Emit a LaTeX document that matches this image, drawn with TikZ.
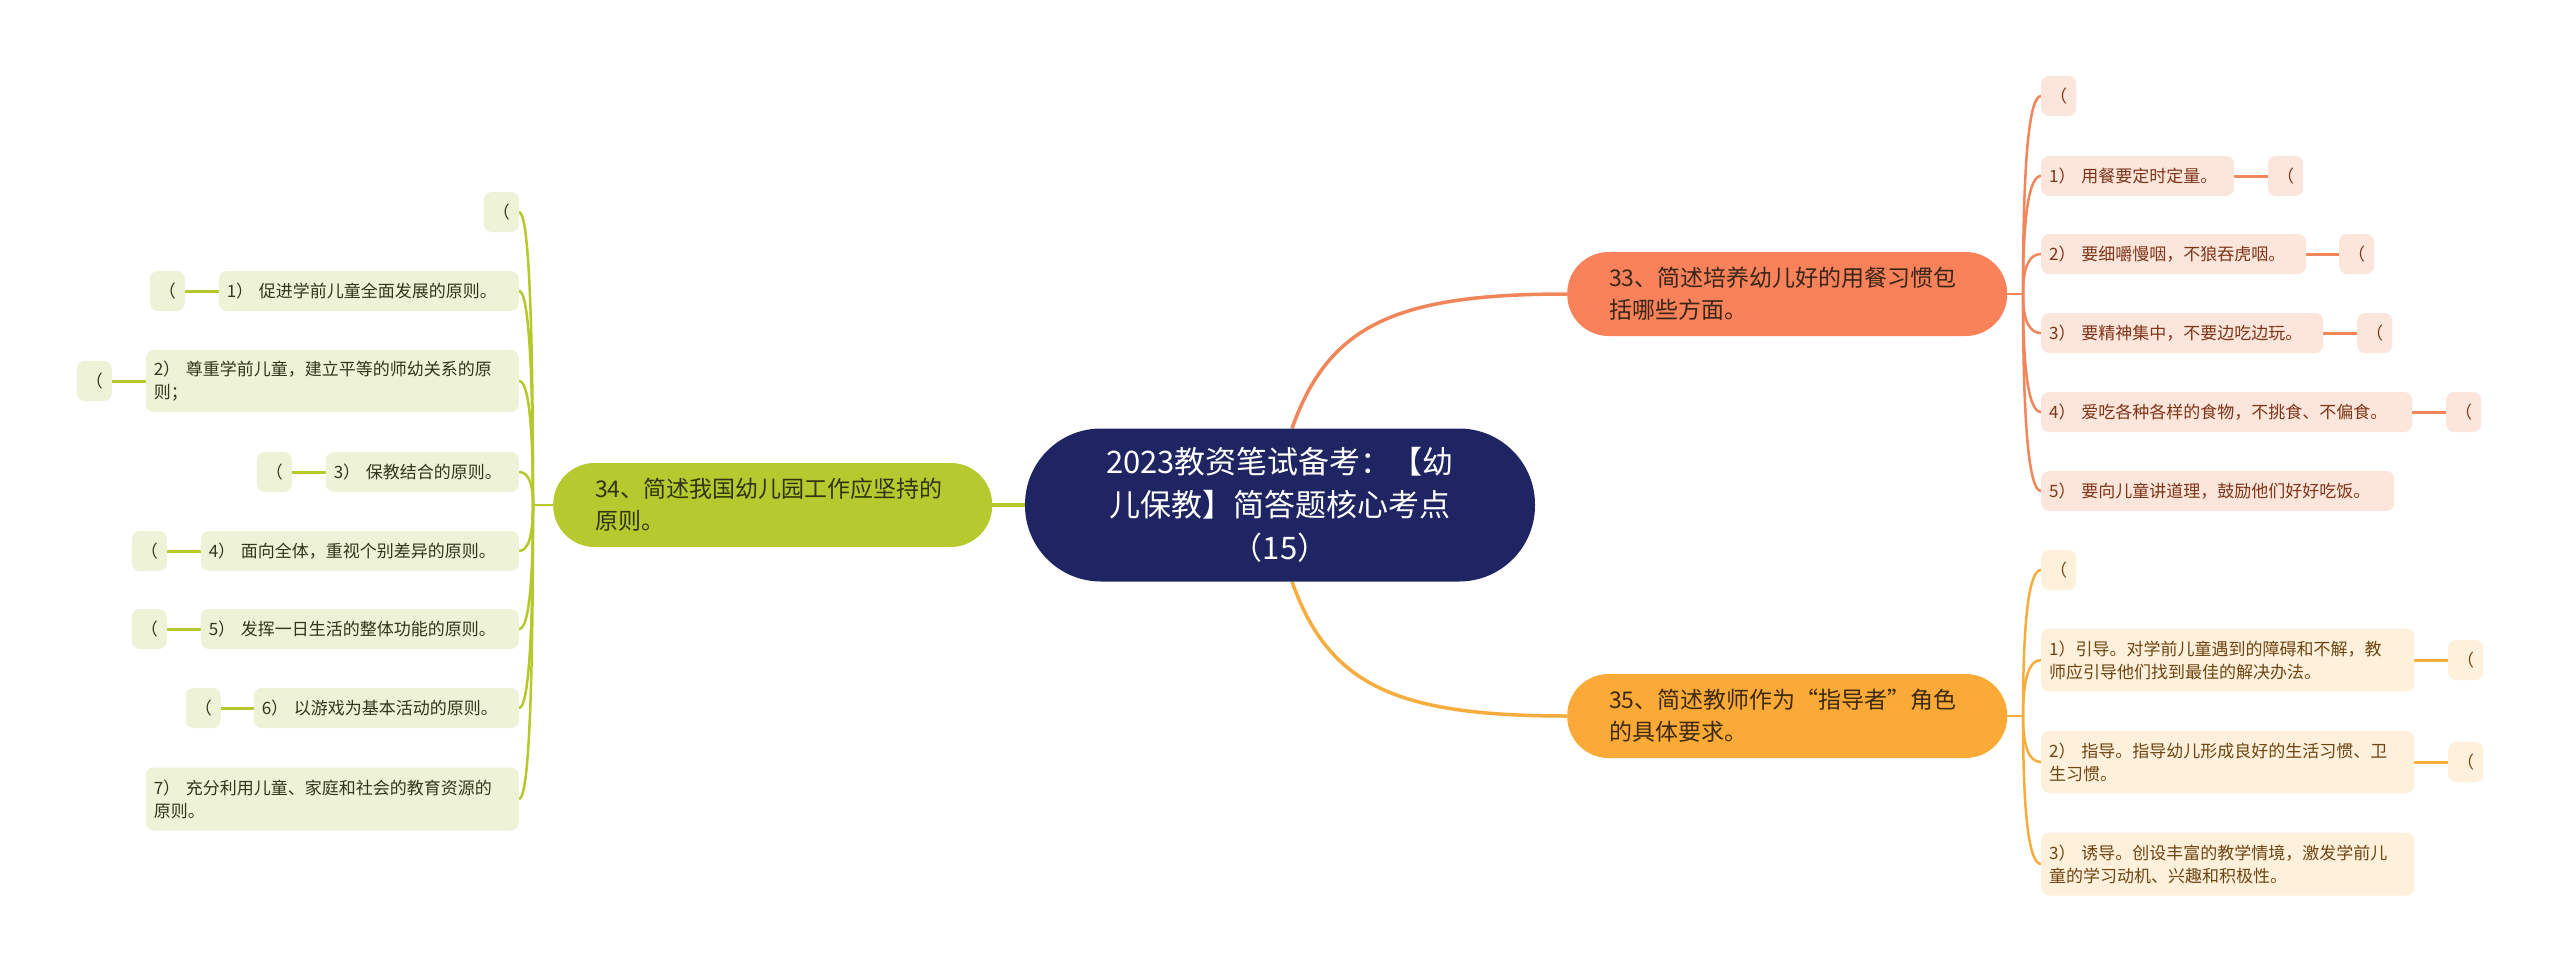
\documentclass[tikz,border=0pt]{standalone}
\usepackage{fontspec}
\setmainfont{Noto Sans CJK SC}
\usetikzlibrary{calc,backgrounds}
\definecolor{navy}{HTML}{1F2563}
\definecolor{oMain}{HTML}{F9825A}
\definecolor{gMain}{HTML}{B6C92E}
\definecolor{yMain}{HTML}{FBAA37}
\definecolor{oLine}{HTML}{F0865A}
\definecolor{gLine}{HTML}{B5C92C}
\definecolor{yLine}{HTML}{F7AD3D}
\definecolor{oFill}{HTML}{FCE5DA}
\definecolor{gFill}{HTML}{EEF2D7}
\definecolor{yFill}{HTML}{FEF0DA}
\definecolor{oText}{HTML}{7E3519}
\definecolor{gText}{HTML}{33361A}
\definecolor{yText}{HTML}{6E4513}
\definecolor{oMText}{HTML}{3A2616}
\definecolor{gMText}{HTML}{2F3510}
\definecolor{yMText}{HTML}{3D2A0F}
\begin{document}
\begin{tikzpicture}[x=1pt,y=-1pt,
  central/.style={fill=navy, text=white, rounded corners=76pt, minimum width=510pt,
    minimum height=153pt, align=center, inner sep=0pt, font=\fontsize{31}{43}\selectfont},
  mainbox/.style={rounded corners=41.5pt, minimum height=84pt, text width=#1,
    inner xsep=42pt, inner ysep=4pt, align=left, font=\fontsize{23}{32}\selectfont},
  leaf/.style={rounded corners=8pt, inner xsep=8pt, inner ysep=3pt, minimum height=40pt,
    align=left, font=\fontsize{17}{23}\selectfont},
  paren/.style={rounded corners=8pt, minimum width=35pt, minimum height=40pt,
    inner sep=0pt, font=\fontsize{17}{23}\selectfont},
  oleaf/.style={leaf, fill=oFill, text=oText},
  gleaf/.style={leaf, fill=gFill, text=gText},
  yleaf/.style={leaf, fill=yFill, text=yText},
  oparen/.style={paren, fill=oFill, text=oText},
  gparen/.style={paren, fill=gFill, text=gText},
  yparen/.style={paren, fill=yFill, text=yText},
  branch/.style={to path={.. controls ($(\tikztostart)!0.667!(\tikztostart|-\tikztotarget)$)
    and ($(\tikztotarget)!0.667!(\tikztostart|-\tikztotarget)$) .. (\tikztotarget)}},
  oline/.style={draw=oLine, line width=2.5pt},
  gline/.style={draw=gLine, line width=2.5pt},
  yline/.style={draw=yLine, line width=2.5pt}
]
\useasboundingbox (0,0) rectangle (2560,972);

% central
\node[central] (c) at (1280,505) {2023教资笔试备考：【幼\\儿保教】简答题核心考点\\（15）};

% main branches
\node[mainbox=356pt, fill=oMain, text=oMText, anchor=west] (n33) at (1567,294) {33、简述培养幼儿好的用餐习惯包\\括哪些方面。};
\node[mainbox=355pt, fill=gMain, text=gMText, anchor=west] (n34) at (553,505) {34、简述我国幼儿园工作应坚持的\\原则。};
\node[mainbox=356pt, fill=yMain, text=yMText, anchor=west] (n35) at (1567,716) {35、简述教师作为“指导者”角色\\的具体要求。};

% orange leaves
\node[oparen, anchor=west] (r0) at (2041,96) {（};
\node[oleaf, text width=177pt, anchor=west] (r1) at (2041,176) {1）~用餐要定时定量。};
\node[oleaf, text width=249pt, anchor=west] (r2) at (2041,254) {2）~要细嚼慢咽，不狼吞虎咽。};
\node[oleaf, text width=266pt, anchor=west] (r3) at (2041,333) {3）~要精神集中，不要边吃边玩。};
\node[oleaf, text width=355pt, anchor=west] (r4) at (2041,412) {4）~爱吃各种各样的食物，不挑食、不偏食。};
\node[oleaf, text width=337pt, anchor=west] (r5) at (2041,491) {5）~要向儿童讲道理，鼓励他们好好吃饭。};
\node[oparen, anchor=west] (r1p) at (2268,176) {（};
\node[oparen, anchor=west] (r2p) at (2339,254) {（};
\node[oparen, anchor=west] (r3p) at (2357,333) {（};
\node[oparen, anchor=west] (r4p) at (2446,412) {（};

% yellow leaves
\node[yparen, anchor=west] (y0) at (2041,570) {（};
\node[yleaf, text width=357pt, minimum height=63pt, anchor=west] (y1) at (2041,660) {1）引导。对学前儿童遇到的障碍和不解，教\\师应引导他们找到最佳的解决办法。};
\node[yleaf, text width=357pt, minimum height=62pt, anchor=west] (y2) at (2041,762) {2）~指导。指导幼儿形成良好的生活习惯、卫\\生习惯。};
\node[yleaf, text width=357pt, minimum height=63pt, anchor=west] (y3) at (2041,864) {3）~诱导。创设丰富的教学情境，激发学前儿\\童的学习动机、兴趣和积极性。};
\node[yparen, anchor=west] (y1p) at (2448,660) {（};
\node[yparen, anchor=west] (y2p) at (2448,762) {（};

% green leaves
\node[gparen, anchor=east] (g0) at (519,212) {（};
\node[gleaf, text width=284pt, anchor=east] (g1) at (519,291) {1）~促进学前儿童全面发展的原则。};
\node[gleaf, text width=357pt, minimum height=62pt, anchor=east] (g2) at (519,381) {2）~尊重学前儿童，建立平等的师幼关系的原\\则；};
\node[gleaf, text width=177pt, anchor=east] (g3) at (519,472) {3）~保教结合的原则。};
\node[gleaf, text width=302pt, anchor=east] (g4) at (519,551) {4）~面向全体，重视个别差异的原则。};
\node[gleaf, text width=302pt, anchor=east] (g5) at (519,629) {5）~发挥一日生活的整体功能的原则。};
\node[gleaf, text width=249pt, anchor=east] (g6) at (519,708) {6）~以游戏为基本活动的原则。};
\node[gleaf, text width=357pt, minimum height=63pt, anchor=east] (g7) at (519,799) {7）~充分利用儿童、家庭和社会的教育资源的\\原则。};
\node[gparen, anchor=east] (g1p) at (185,291) {（};
\node[gparen, anchor=east] (g2p) at (112,381) {（};
\node[gparen, anchor=east] (g3p) at (292,472) {（};
\node[gparen, anchor=east] (g4p) at (167,551) {（};
\node[gparen, anchor=east] (g5p) at (167,629) {（};
\node[gparen, anchor=east] (g6p) at (221,708) {（};

\coordinate (JO) at (2023,294);
\coordinate (JY) at (2023,716);
\coordinate (JG) at (533,505);

\begin{pgfonlayer}{background}
\fill[white] (0,0) rectangle (2560,972);
% main connectors
\draw[oLine, line width=3.5pt] ($(c.north)+(12,0)$) .. controls (1329,324) and (1397,294) .. (n33.west);
\draw[yLine, line width=3.5pt] ($(c.south)+(12,0)$) .. controls (1329,686) and (1397,716) .. (n35.west);
\draw[gLine, line width=3.5pt] (c.west) -- (n34.east);
% orange
\draw[oline] (n33.east) -- (JO);
\foreach \n in {r0,r1,r2,r3,r4,r5} \draw[oline] (JO) to[branch] (\n.west);
\foreach \n in {r1,r2,r3,r4} \draw[oLine, line width=3pt] (\n.east) -- (\n p.west);
% yellow
\draw[yline] (n35.east) -- (JY);
\foreach \n in {y0,y1,y2,y3} \draw[yline] (JY) to[branch] (\n.west);
\foreach \n in {y1,y2} \draw[yLine, line width=3pt] (\n.east) -- (\n p.west);
% green
\draw[gline] (n34.west) -- (JG);
\foreach \n in {g0,g1,g2,g3,g4,g5,g6,g7} \draw[gline] (JG) to[branch] (\n.east);
\foreach \n in {g1,g2,g3,g4,g5,g6} \draw[gLine, line width=3pt] (\n.west) -- (\n p.east);
\end{pgfonlayer}
\end{tikzpicture}
\end{document}
